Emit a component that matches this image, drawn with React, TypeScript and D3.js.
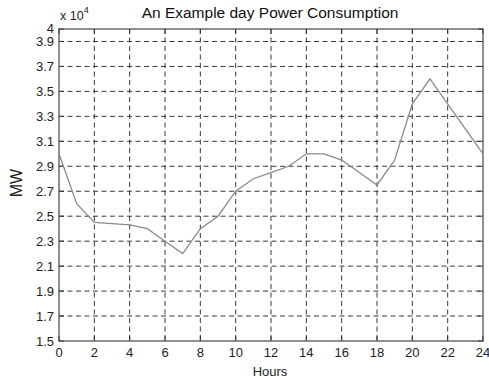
import { useEffect, useRef } from "react";
import * as d3 from "d3";

// hourly load, in units of 10^4 MW
const hours = [0, 1, 2, 3, 4, 5, 6, 7, 8, 9, 10, 11, 12, 13, 14, 15, 16, 17, 18, 19, 20, 21, 22, 23, 24];
const load = [3.0, 2.6, 2.45, 2.44, 2.43, 2.4, 2.3, 2.2, 2.4, 2.5, 2.7, 2.8, 2.85, 2.9, 3.0, 3.0, 2.95, 2.85, 2.75, 2.95, 3.4, 3.6, 3.4, 3.2, 3.0];
const xTicks = [0, 2, 4, 6, 8, 10, 12, 14, 16, 18, 20, 22, 24];
const yTicks = [1.5, 1.7, 1.9, 2.1, 2.3, 2.5, 2.7, 2.9, 3.1, 3.3, 3.5, 3.7, 3.9, 4];

const App = () => {
    const chartRef = useRef(null);

    useEffect(() => {
        const W = 489, H = 381;
        const margin = { top: 29, right: 6, bottom: 40, left: 59 };
        const width = W - margin.left - margin.right;
        const height = H - margin.top - margin.bottom;
        const font = "Liberation Sans, Arial, sans-serif";

        const root = d3.select(chartRef.current)
            .attr("width", W)
            .attr("height", H);

        root.append("rect").attr("width", W).attr("height", H).attr("fill", "#fff");

        const svg = root.append("g")
            .attr("transform", `translate(${margin.left},${margin.top})`);

        const x = d3.scaleLinear().domain([0, 24]).range([0, width]);
        const y = d3.scaleLinear().domain([1.5, 4]).range([height, 0]);

        // dashed grid
        svg.selectAll(".vgrid")
            .data(xTicks.filter(d => d > 0 && d < 24))
            .enter()
            .append("line")
            .attr("x1", d => x(d)).attr("x2", d => x(d))
            .attr("y1", 0).attr("y2", height)
            .attr("stroke", "#222")
            .attr("stroke-width", 0.9)
            .attr("stroke-dasharray", "5,3.5");

        svg.selectAll(".hgrid")
            .data(yTicks.filter(d => d > 1.5 && d < 4))
            .enter()
            .append("line")
            .attr("x1", 0).attr("x2", width)
            .attr("y1", d => y(d)).attr("y2", d => y(d))
            .attr("stroke", "#222")
            .attr("stroke-width", 0.9)
            .attr("stroke-dasharray", "5,3.5");

        // inward ticks
        const tl = 5;
        xTicks.forEach(t => {
            svg.append("line").attr("x1", x(t)).attr("x2", x(t)).attr("y1", height).attr("y2", height - tl).attr("stroke", "#333");
            svg.append("line").attr("x1", x(t)).attr("x2", x(t)).attr("y1", 0).attr("y2", tl).attr("stroke", "#333");
        });
        yTicks.forEach(t => {
            svg.append("line").attr("x1", 0).attr("x2", tl).attr("y1", y(t)).attr("y2", y(t)).attr("stroke", "#333");
            svg.append("line").attr("x1", width).attr("x2", width - tl).attr("y1", y(t)).attr("y2", y(t)).attr("stroke", "#333");
        });

        // frame
        svg.append("rect")
            .attr("width", width)
            .attr("height", height)
            .attr("fill", "none")
            .attr("stroke", "#444")
            .attr("stroke-width", 1.2);

        const line = d3.line<number>()
            .x((d, i) => x(hours[i]))
            .y(d => y(d));

        svg.append("path")
            .datum(load)
            .attr("d", line)
            .attr("fill", "none")
            .attr("stroke", "#8a8a8a")
            .attr("stroke-width", 1.3);

        // tick labels
        svg.selectAll(".xlab")
            .data(xTicks)
            .enter()
            .append("text")
            .attr("x", d => x(d))
            .attr("y", height + 16)
            .attr("text-anchor", "middle")
            .style("font-family", font)
            .style("font-size", "13px")
            .attr("fill", "#222")
            .text(d => d);

        svg.selectAll(".ylab")
            .data(yTicks)
            .enter()
            .append("text")
            .attr("x", -5)
            .attr("y", d => y(d) + (d === 4 ? 4 : 5))
            .attr("text-anchor", "end")
            .style("font-family", font)
            .style("font-size", "13px")
            .attr("fill", "#222")
            .text(d => (d === 4 ? "4" : d.toFixed(1)));

        // titles
        root.append("text")
            .attr("x", 270)
            .attr("y", 18)
            .attr("text-anchor", "middle")
            .style("font-family", font)
            .style("font-size", "15.5px")
            .attr("fill", "#111")
            .text("An Example day Power Consumption");

        const exp = root.append("text")
            .attr("x", 60)
            .attr("y", 20)
            .style("font-family", font)
            .style("font-size", "12.5px")
            .attr("fill", "#222");
        exp.append("tspan").text("x 10");
        exp.append("tspan").attr("dy", -7).style("font-size", "9px").text("4");

        root.append("text")
            .attr("x", 270)
            .attr("y", 376)
            .attr("text-anchor", "middle")
            .style("font-family", font)
            .style("font-size", "13px")
            .attr("fill", "#222")
            .text("Hours");

        root.append("text")
            .attr("transform", "translate(22,183) rotate(-90)")
            .attr("text-anchor", "middle")
            .style("font-family", font)
            .style("font-size", "16px")
            .attr("fill", "#222")
            .text("MW");

        return () => {
            d3.select(chartRef.current).selectAll("*").remove();
        };
    }, []);

    return <svg ref={chartRef} style={{ position: "absolute", left: 0, top: 0 }}></svg>;
};

export default App;
